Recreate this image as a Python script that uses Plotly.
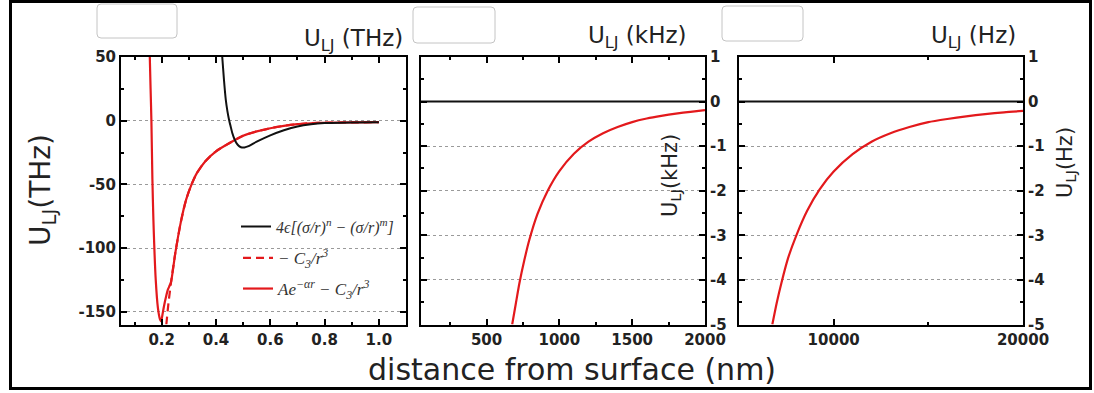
import plotly.graph_objects as go

W, H = 1094, 393

# ---------------- data ----------------
# Panel 1 : U_LJ in THz, distance in nm
lj_x = [0.423, 0.429, 0.436, 0.442, 0.448, 0.454, 0.460, 0.468, 0.476, 0.485,
        0.495, 0.505, 0.52, 0.55, 0.60, 0.65, 0.70, 0.75, 0.80, 0.90, 1.00]
lj_y = [50, 33, 16.5, 7.5, 0.8, -4.5, -9.7, -14.5, -17.8, -20,
        -21, -21, -20, -16.5, -11.5, -7.5, -4.5, -2.8, -1.9, -1.4, -1.2]

c3_x = [0.217, 0.225, 0.235, 0.25, 0.27, 0.29, 0.31, 0.33, 0.36, 0.40,
        0.45, 0.50, 0.55, 0.60, 0.65, 0.70, 0.75, 0.80, 0.90, 1.00]
c3_y = [-160, -143, -126, -104, -80, -62, -50, -41, -32, -24,
        -17.5, -11.8, -8.4, -5.9, -4.0, -2.7, -2.0, -1.6, -1.3, -1.2]

full_x = [0.1555, 0.159, 0.162, 0.1657, 0.1694, 0.178, 0.186, 0.1937, 0.198,
          0.203, 0.208, 0.215, 0.222, 0.230, 0.235, 0.25, 0.27, 0.29, 0.31,
          0.33, 0.36, 0.40, 0.45, 0.50, 0.55, 0.60, 0.65, 0.70, 0.75, 0.80,
          0.90, 1.00]
full_y = [55, 25, 0, -46, -78, -125, -147, -156, -157.5,
          -152, -146, -139, -133, -129, -126, -104, -80, -62, -50,
          -41, -32, -24, -17.5, -11.8, -8.4, -5.9, -4.0, -2.7, -2.0, -1.6,
          -1.3, -1.2]

# Panel 2 : U_LJ in kHz
k_lj_x = [50, 500, 1000, 1500, 2000]
k_lj_y = [0, 0, 0, 0, 0]
k_x = [676, 700, 726, 760, 794, 850, 920, 1000, 1100, 1200, 1300, 1400,
       1500, 1600, 1700, 1800, 1900, 2000]
k_y = [-5.0, -4.55, -4.07, -3.55, -3.1, -2.52, -2.0, -1.56, -1.17, -0.90, -0.71,
       -0.57, -0.46, -0.38, -0.32, -0.27, -0.23, -0.19]

# Panel 3 : U_LJ in Hz
h_lj_x = [5000, 10000, 15000, 20000]
h_lj_y = [0, 0, 0, 0]
h_x = [6760, 7000, 7250, 7600, 8030, 8600, 9260, 10000, 11000, 12000, 13000,
       14000, 15000, 16000, 17000, 18000, 19000, 20000]
h_y = [-5.0, -4.5, -4.05, -3.5, -3.0, -2.45, -1.97, -1.57, -1.18, -0.9, -0.71,
       -0.57, -0.46, -0.39, -0.33, -0.28, -0.24, -0.21]

# tick labels
x1_ticks = [0.2, 0.4, 0.6, 0.8, 1.0]
x1_text = ["0.2", "0.4", "0.6", "0.8", "1.0"]
y1_ticks = [50, 0, -50, -100, -150]
y1_text = ["50", "0", "-50", "-100", "-150"]
x2_ticks = [500, 1000, 1500, 2000]
x2_text = ["500", "1000", "1500", "2000"]
x3_ticks = [10000, 20000]
x3_text = ["10000", "20000"]
yk_ticks = [1, 0, -1, -2, -3, -4, -5]
yk_text = ["1", "0", "-1", "-2", "-3", "-4", "-5"]

legend_names = [
    "4ϵ[(σ/r)<sup>n</sup> − (σ/r)<sup>m</sup>]",
    "− C<sub>3</sub>/r<sup>3</sup>",
    "Ae<sup>−αr</sup> − C<sub>3</sub>/r<sup>3</sup>",
]

RED = "#e3191c"
BLACK = "#111111"


def px(x):
    return x / W


def py(y):
    return 1 - y / H


fig = go.Figure()

# panel 1
fig.add_trace(go.Scatter(x=full_x, y=full_y, mode="lines", name=legend_names[2],
                         line=dict(color=RED, width=2.2, shape="spline", smoothing=0.6),
                         xaxis="x", yaxis="y", legend="legend3"))
fig.add_trace(go.Scatter(x=c3_x, y=c3_y, mode="lines", name=legend_names[1],
                         line=dict(color=RED, width=2.2, dash="8px,5px", shape="spline", smoothing=0.6),
                         xaxis="x", yaxis="y", legend="legend2"))
fig.add_trace(go.Scatter(x=lj_x, y=lj_y, mode="lines", name=legend_names[0],
                         line=dict(color=BLACK, width=2, shape="spline", smoothing=0.6),
                         xaxis="x", yaxis="y", legend="legend"))
# panel 2
fig.add_trace(go.Scatter(x=k_x, y=k_y, mode="lines", showlegend=False,
                         line=dict(color=RED, width=2.2, shape="spline", smoothing=0.6),
                         xaxis="x2", yaxis="y2"))
fig.add_trace(go.Scatter(x=k_lj_x, y=k_lj_y, mode="lines", showlegend=False,
                         line=dict(color=BLACK, width=2),
                         xaxis="x2", yaxis="y2"))
# panel 3
fig.add_trace(go.Scatter(x=h_x, y=h_y, mode="lines", showlegend=False,
                         line=dict(color=RED, width=2.2, shape="spline", smoothing=0.6),
                         xaxis="x3", yaxis="y3"))
fig.add_trace(go.Scatter(x=h_lj_x, y=h_lj_y, mode="lines", showlegend=False,
                         line=dict(color=BLACK, width=2),
                         xaxis="x3", yaxis="y3"))

tickfont = dict(family="DejaVu Sans", size=15, color="#222", weight="bold")


def axis(**kw):
    d = dict(showline=True, linecolor="black", linewidth=2, mirror="allticks",
             ticks="inside", tickcolor="black", tickwidth=2, ticklen=6,
             showgrid=False, zeroline=False, tickfont=tickfont, tickmode="array",
             fixedrange=True, automargin=False)
    d.update(kw)
    return d


def minor(dt, t0=0):
    return dict(ticks="inside", ticklen=3, tickwidth=2, tickcolor="black",
                dtick=dt, tick0=t0, showgrid=False)


grid = dict(showgrid=True, griddash="dot", gridcolor="#9a9a9a", gridwidth=1)

dom1 = [px(121), px(406)]
dom2 = [px(421), px(705)]
dom3 = [px(739), px(1023)]
ydom = [py(324.5), py(57)]

fig.update_layout(
    template="none",
    width=W, height=H, margin=dict(l=0, r=0, t=0, b=0, autoexpand=False),
    paper_bgcolor="white", plot_bgcolor="white",
    xaxis=axis(domain=dom1, anchor="y", range=[0.05, 1.1], tickvals=x1_ticks,
               ticktext=x1_text, minor=minor(0.1)),
    yaxis=axis(domain=ydom, anchor="x", range=[-160, 50], tickvals=y1_ticks,
               ticktext=y1_text, minor=minor(25), **grid),
    xaxis2=axis(domain=dom2, anchor="y2", range=[50, 2000], tickvals=x2_ticks,
                ticktext=x2_text, minor=minor(250)),
    yaxis2=axis(domain=ydom, anchor="x2", range=[-5, 1], side="right",
                tickvals=yk_ticks, ticktext=yk_text, minor=minor(0.5), **grid),
    xaxis3=axis(domain=dom3, anchor="y3", range=[5000, 20000], tickvals=x3_ticks,
                ticktext=x3_text, minor=minor(5000)),
    yaxis3=axis(domain=ydom, anchor="x3", range=[-5, 1], side="right",
                tickvals=yk_ticks, ticktext=yk_text, minor=minor(0.5), **grid),
    showlegend=True,
)

for name, xl, yc, fs in (("legend", 236, 226.7, 16), ("legend2", 238, 258.3, 17),
                         ("legend3", 238, 289, 17)):
    fig.update_layout({name: dict(x=px(xl), y=py(yc), xanchor="left", yanchor="middle",
                                  bgcolor="rgba(0,0,0,0)", borderwidth=0, itemwidth=30,
                                  font=dict(family="Liberation Serif", size=fs,
                                            color="#333", style="italic"))})

anns = []
tf = dict(family="DejaVu Sans", color="#222")
for txt, xr, yc in (("U<sub>LJ</sub> (THz)", 405, 40),
                    ("U<sub>LJ</sub> (kHz)", 689, 37),
                    ("U<sub>LJ</sub> (Hz)", 1018, 37)):
    anns.append(dict(text=txt, x=px(xr), y=py(yc), xref="paper", yref="paper",
                     xanchor="right", yanchor="middle", showarrow=False,
                     font=dict(size=23, **tf)))
anns.append(dict(text="U<sub>LJ</sub>(THz)", x=px(42), y=py(190), xref="paper", yref="paper",
                 xanchor="center", yanchor="middle", showarrow=False, textangle=-90,
                 font=dict(size=28, **tf)))
anns.append(dict(text="U<sub>LJ</sub>(kHz)", x=px(671), y=py(176), xref="paper", yref="paper",
                 xanchor="center", yanchor="middle", showarrow=False, textangle=-90,
                 font=dict(size=21, **tf)))
anns.append(dict(text="U<sub>LJ</sub>(Hz)", x=px(1066), y=py(163), xref="paper", yref="paper",
                 xanchor="center", yanchor="middle", showarrow=False, textangle=-90,
                 font=dict(size=21, **tf)))
anns.append(dict(text="distance from surface (nm)", x=px(572), y=py(369), xref="paper",
                 yref="paper", xanchor="center", yanchor="middle", showarrow=False,
                 font=dict(size=30, **tf)))
fig.update_layout(annotations=anns)


def rounded(x0, y0, x1, y1, r=4):
    X0, X1 = px(x0), px(x1)
    Y0, Y1 = py(y0), py(y1)
    rx, ry = r / W, r / H
    return (f"M{X0+rx},{Y0} L{X1-rx},{Y0} Q{X1},{Y0} {X1},{Y0-ry} "
            f"L{X1},{Y1+ry} Q{X1},{Y1} {X1-rx},{Y1} L{X0+rx},{Y1} "
            f"Q{X0},{Y1} {X0},{Y1+ry} L{X0},{Y0-ry} Q{X0},{Y0} {X0+rx},{Y0} Z")


shapes = [dict(type="rect", xref="paper", yref="paper", x0=px(10.5), x1=px(1090.5),
               y0=py(388.5), y1=py(1.5), line=dict(color="black", width=3))]
for b in ((97, 4, 177, 38), (413, 7, 495, 43), (722, 6, 803, 41)):
    shapes.append(dict(type="path", xref="paper", yref="paper", path=rounded(*b),
                       line=dict(color="#c4c4c4", width=1)))
fig.update_layout(shapes=shapes)

fig.write_html("out.html")
